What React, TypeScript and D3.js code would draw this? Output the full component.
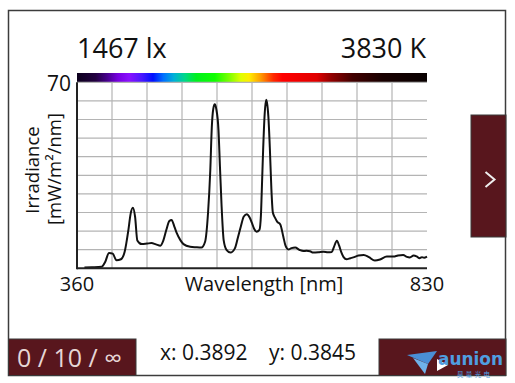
import React from "react";
import * as d3 from "d3";

const wavelengths = [370, 380, 393, 398, 403, 408, 413, 419, 424, 429, 432, 435, 438, 441, 447, 454, 460, 466, 472, 476, 480, 484, 487, 491, 494, 499, 503, 512, 520, 527, 532, 536, 539, 541, 543, 545, 547, 550, 552, 554, 557, 561, 566, 572, 576, 580, 584, 588, 592, 595, 598, 601, 605, 607, 608, 610, 612, 614, 615, 617, 619, 621, 623, 626, 629, 633, 637, 640, 644, 648, 653, 659, 664, 668, 673, 677, 684, 691, 697, 702, 705, 709, 712, 715, 718, 722, 727, 731, 738, 745, 752, 760, 767, 776, 785, 791, 798, 803, 807, 812, 816, 820, 823, 826, 830];
const irradiance = [0.3, 0.4, 0.6, 2.5, 5.8, 5.5, 3.0, 3.4, 6.2, 14.4, 20.5, 22.8, 19.4, 10.5, 9.1, 9.3, 9.5, 9.0, 8.5, 10.5, 14.5, 17.8, 18.2, 15.5, 13.2, 10.5, 9.1, 8.1, 7.9, 7.8, 10.0, 21.0, 37.0, 53.0, 60.0, 61.7, 60.0, 52.0, 38.0, 24.5, 10.5, 6.8, 5.9, 7.5, 11.5, 15.7, 19.5, 20.3, 19.0, 17.0, 14.8, 13.8, 14.5, 20.0, 28.0, 45.0, 58.0, 63.4, 62.5, 57.0, 45.0, 30.0, 21.0, 19.0, 17.5, 16.5, 12.0, 8.5, 7.1, 7.6, 7.8, 6.9, 6.5, 6.6, 6.4, 5.9, 6.0, 6.2, 6.0, 6.1, 8.0, 10.4, 8.5, 6.0, 4.2, 3.4, 3.8, 4.1, 4.8, 5.0, 4.2, 2.9, 3.3, 4.4, 4.4, 4.8, 5.0, 4.3, 4.1, 4.8, 4.5, 3.8, 4.2, 4.0, 4.4];

const gridWavelengths = [407, 454, 501, 548, 595, 642, 689, 736, 783];
const gridValues = [7, 14, 21, 28, 35, 42, 49, 56, 63, 70];

const spectrumStops: [number, string][] = [
  [360, "#0c001c"], [385, "#220040"], [400, "#45008a"], [415, "#7600e0"], [430, "#8a10ff"],
  [447, "#4a18ff"], [462, "#0010ff"], [476, "#0070ff"], [490, "#00b0d8"], [505, "#00d888"],
  [520, "#00f020"], [545, "#10ff00"], [565, "#80ff00"], [580, "#e0ff00"], [591, "#ffee00"],
  [606, "#ffa000"], [624, "#ff2800"], [636, "#ff0000"], [682, "#e00000"], [702, "#900000"],
  [730, "#420000"], [770, "#180000"], [830, "#080000"],
];

const title1 = "1467 lx";
const title2 = "3830 K";
const xyText = ["x: 0.3892", "y: 0.3845"];
const counterText = "0 / 10 / ∞";

const FONT = "'Open Sans', sans-serif";
const DARK_RED = "#58161d";

export default function App() {
  const x = d3.scaleLinear().domain([360, 830]).range([77, 427]);
  const y = d3.scaleLinear().domain([0, 70]).range([268.3, 82.3]);
  const pts: [number, number][] = wavelengths.map((w, i) => [w, irradiance[i]]);
  const line = d3
    .line<[number, number]>()
    .x((d) => x(d[0]))
    .y((d) => y(d[1]))
    .curve(d3.curveMonotoneX);

  return (
    <svg
      width={515}
      height={383}
      style={{ position: "absolute", left: 0, top: 0, background: "#fff" }}
      fontFamily={FONT}
    >
      <defs>
        <linearGradient id="spec" x1="0" x2="1" y1="0" y2="0">
          {spectrumStops.map(([w, c], i) => (
            <stop key={i} offset={(w - 360) / 470} stopColor={c} />
          ))}
        </linearGradient>
      </defs>
      <rect x={8.5} y={10.5} width={497} height={365} fill="#fff" stroke="#3c3c3c" strokeWidth={1.5} />

      <text x={77} y={58} fontSize={27} fill="#111">{title1}</text>
      <text x={426} y={58} fontSize={27} fill="#111" textAnchor="end">{title2}</text>

      <rect x={x(360)} y={73} width={x(830) - x(360)} height={9.3} fill="url(#spec)" />

      {gridValues.map((v) => (
        <line key={"h" + v} x1={x(360)} x2={x(830)} y1={y(v)} y2={y(v)} stroke="#b4b4b4" strokeWidth={1.2} />
      ))}
      {gridWavelengths.map((w) => (
        <line key={"v" + w} x1={x(w)} x2={x(w)} y1={y(70)} y2={y(0)} stroke="#b4b4b4" strokeWidth={1.2} />
      ))}
      <path d={line(pts) || ""} fill="none" stroke="#111" strokeWidth={2} strokeLinejoin="round" />
      <line x1={x(360)} x2={x(360)} y1={y(70)} y2={y(0) + 1} stroke="#222" strokeWidth={2} />
      <line x1={x(360)} x2={x(830)} y1={y(0)} y2={y(0)} stroke="#222" strokeWidth={2} />

      <text x={71} y={90.5} fontSize={21} fill="#111" textAnchor="end">70</text>
      <text x={77} y={291} fontSize={20} fill="#111" textAnchor="middle">360</text>
      <text x={427} y={291} fontSize={20} fill="#111" textAnchor="middle">830</text>
      <text x={264} y={291} fontSize={20} fill="#111" textAnchor="middle">Wavelength [nm]</text>

      <text transform="translate(39,170) rotate(-90)" fontSize={18.5} fill="#111" textAnchor="middle">Irradiance</text>
      <text transform="translate(61,169) rotate(-90)" fontSize={18.5} fill="#111" textAnchor="middle">[mW/m²/nm]</text>

      <rect x={471} y={115} width={35} height={122} fill={DARK_RED} stroke="#3a3a3a" strokeWidth={1} />
      <polyline points="485.5,172 494.5,179.5 485.5,187" fill="none" stroke="#eee" strokeWidth={2} />

      <rect x={8.5} y={339} width={127.5} height={36.5} fill={DARK_RED} stroke="#3a3a3a" strokeWidth={1} />
      <text x={17} y={366.5} fontSize={25} fill="#e6d6d6">{counterText}</text>

      <text x={160} y={359.5} fontSize={21} fill="#111">{xyText[0]}</text>
      <text x={269} y={359.5} fontSize={21} fill="#111">{xyText[1]}</text>

      <rect x={379} y={339} width={127} height={36.5} fill={DARK_RED} stroke="#3a3a3a" strokeWidth={1} />
      <polygon points="407,355 437,351 428,364" fill="#4a8fd6" />
      <polygon points="413,358 428,364 425,374" fill="#6fb2ea" />
      <polygon points="437,359 448,365 437,371" fill="#fff" />
      <text x={438} y={365} fontSize={17} fontWeight="bold" fill="#4f9ee0" fontFamily="'DejaVu Sans', sans-serif" textLength={65} lengthAdjust="spacingAndGlyphs">aunion</text>
      <text x={457} y={376.5} fontSize={6.5} fill="#4f9ee0" fontFamily="'Noto Sans CJK SC', sans-serif" textLength={33}>昊量光电</text>
    </svg>
  );
}
